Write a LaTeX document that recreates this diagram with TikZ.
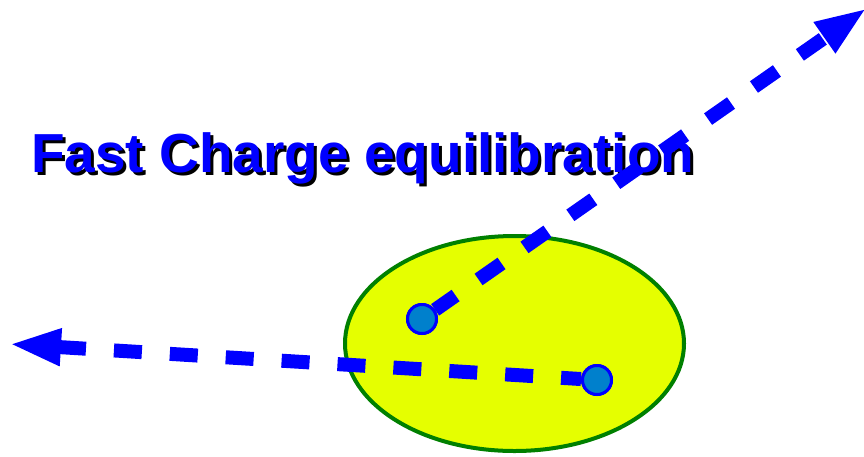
\documentclass[tikz,border=0pt]{standalone}
\usepackage{fontspec}
\setmainfont{Liberation Sans}
\usepackage{tikz}
\usetikzlibrary{arrows.meta, shapes.geometric}
\definecolor{cellfill}{RGB}{229,255,0}
\definecolor{cellline}{RGB}{0,128,0}
\definecolor{ionfill}{RGB}{0,128,204}
\definecolor{flow}{RGB}{0,0,255}

\begin{document}
\begin{tikzpicture}[
  x=1pt, y=-1pt,
  cell/.style={ellipse, draw=cellline, fill=cellfill, line width=4pt,
               minimum width=339pt, minimum height=215pt, inner sep=0pt},
  ion/.style={circle, draw=flow, fill=ionfill, line width=3pt,
              minimum size=29pt, inner sep=0pt},
  title/.style={font=\bfseries\fontsize{55}{60}\selectfont, text=flow,
                anchor=base west, inner sep=0pt},
  a/.style={draw=flow, line width=14pt, dash pattern=on 28pt off 28pt,
            -{Triangle[length=52pt, width=34pt]}}
]
\useasboundingbox (0,0) rectangle (864,456);

% ---- title with its shadow ----
\node[title, text=black] (titleshadow) at (34,175) {Fast Charge equilibration};
\node[title] (title) at (31,172) {Fast Charge equilibration};

% ---- cell and the two ions ----
\node[cell] (cell) at (514.5,343.5) {};
\node[ion] (ionA) at (422,319) {};
\node[ion] (ionB) at (597,380) {};

% ---- arrow ends ----
\coordinate (outA) at (867,8);
\coordinate (outB) at (9,344);

% ---- fast escape of both ions ----
\draw[a, dash phase=3pt] (ionA) -- (outA);
\draw[a, dash phase=8pt] (ionB) -- (outB);

% ions again on top of the dashes
\node[ion] at (ionA) {};
\node[ion] at (ionB) {};

\end{tikzpicture}
\end{document}
